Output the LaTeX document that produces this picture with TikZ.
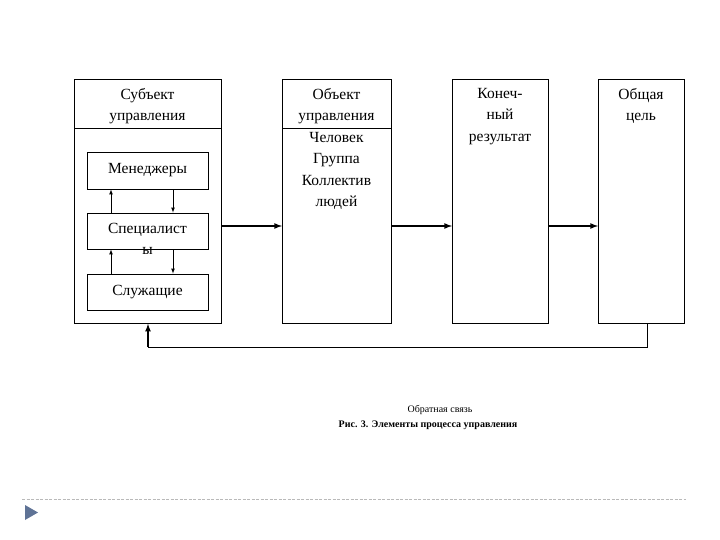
\documentclass[tikz,border=0pt]{standalone}
\usepackage{fontspec}
\setmainfont{Liberation Serif}
\definecolor{slate}{RGB}{95,115,150}
\begin{document}
\begin{tikzpicture}[x=1pt,y=-1pt,
  box/.style={draw,line width=0.8pt},
  txt/.style={font=\fontsize{15.5}{21.5}\selectfont,align=center,inner sep=0pt},
  arr/.style={-latex,line width=0.7pt},
  thk/.style={-latex,line width=1.6pt}]
\useasboundingbox (0,0) rectangle (720,540);
% main boxes
\node[box,minimum width=147pt,minimum height=244pt,anchor=north west] (b1) at (74,79) {};
\node[box,minimum width=109pt,minimum height=244pt,anchor=north west] (b2) at (282,79) {};
\node[box,minimum width=96pt,minimum height=244pt,anchor=north west] (b3) at (452,79) {};
\node[box,minimum width=86pt,minimum height=244pt,anchor=north west] (b4) at (598,79) {};
\draw[line width=0.6pt] (74,128) -- (221,128);
\draw[line width=0.6pt] (282,128) -- (391,128);
\node[txt] (t1) at (147.5,106) {Субъект\\управления};
\node[txt,anchor=north] (t2) at (336.5,88) {Объект\\управления\\Человек\\Группа\\Коллектив\\людей};
\node[txt,anchor=north] (t3) at (500,88) {Конеч-\\ный\\результат};
\node[txt,anchor=north] (t4) at (641,88) {Общая\\цель};
% inner boxes
\node[box,minimum width=121pt,minimum height=37pt] (m) at (147.5,170.5) {};
\node[txt] at (m) {Менеджеры};
\node[box,minimum width=121pt,minimum height=36pt] (s) at (147.5,231) {};
\node[txt] at (147.5,230) {Специалист};
\node[txt] at (147.5,251) {ы};
\node[box,minimum width=121pt,minimum height=36pt] (sl) at (147.5,292) {};
\node[txt] at (sl) {Служащие};
% inner arrows
\draw[arr] (s.north -| 111,0) -- (m.south -| 111,0);
\draw[arr] (m.south -| 173,0) -- (s.north -| 173,0);
\draw[arr] (sl.north -| 111,0) -- (s.south -| 111,0);
\draw[arr] (s.south -| 173,0) -- (sl.north -| 173,0);
% horizontal arrows
\draw[thk] (b1.east |- 0,226) -- (b2.west |- 0,226);
\draw[thk] (b2.east |- 0,226) -- (b3.west |- 0,226);
\draw[thk] (b3.east |- 0,226) -- (b4.west |- 0,226);
% feedback
\coordinate (f1) at (647,347);
\coordinate (f2) at (148,347);
\draw[line width=0.8pt] (b4.south -| f1) -- (f1) -- (f2);
\draw[thk] (f2) -- (b1.south -| f2);
% captions
\node[font=\fontsize{10}{11}\selectfont,inner sep=0pt] (c1) at (440,410) {Обратная связь};
\node[font=\bfseries\fontsize{10}{11}\selectfont,inner sep=0pt] (c2) at (428,425) {Рис. 3. Элементы процесса управления};
% slide decoration
\draw[gray!55,line width=0.6pt,dash pattern=on 3pt off 1.5pt] (22,499) -- (686,499);
\fill[slate] (25,505) -- (38,512.5) -- (25,520) -- cycle;
\end{tikzpicture}
\end{document}
